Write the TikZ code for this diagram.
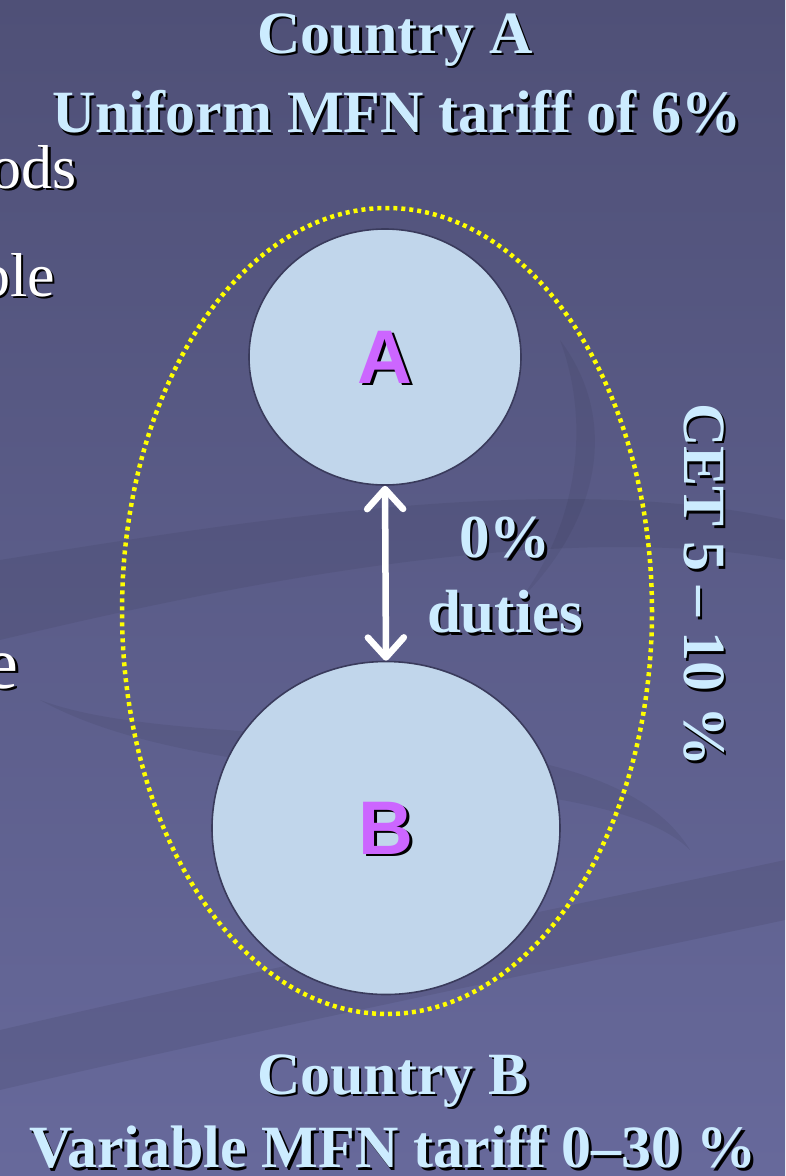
\documentclass[tikz,border=0pt]{standalone}
\usepackage{fontspec}
\setmainfont{Liberation Serif}
\newfontfamily\letterfont{Liberation Sans}
\usetikzlibrary{arrows.meta,positioning,shapes.geometric}
\definecolor{slideTop}{HTML}{4F5077}
\definecolor{slideBottom}{HTML}{67699B}
\definecolor{titleBlue}{HTML}{CCECFF}
\definecolor{countryFill}{HTML}{C1D6EB}
\definecolor{countryLine}{HTML}{3A3B5C}
\definecolor{letterViolet}{HTML}{CC66FF}
\definecolor{unionYellow}{HTML}{FFFF00}

% text with a black drop shadow
\newcommand{\dropnode}[4][]{%
  \node[#1, text=black] (#2shadow) at ([shift={(2.5,2.5)}]#3) {#4};
  \node[#1] (#2) at (#3) {#4};}

\begin{document}
\begin{tikzpicture}[x=1pt, y=-1pt,
  caption/.style={text=titleBlue, inner sep=0pt, font=\bfseries\fontsize{60}{66}\selectfont},
  duty/.style={text=titleBlue, inner sep=0pt, font=\bfseries\fontsize{61}{64}\selectfont},
  fragment/.style={text=white, inner sep=0pt, anchor=base east, font=\fontsize{62}{66}\selectfont},
  country/.style={ellipse, draw=countryLine, line width=1.6pt, fill=countryFill, inner sep=0pt},
  union/.style={ellipse, draw=unionYellow, line width=4.5pt, dash pattern=on 4pt off 4pt, inner sep=0pt},
  letter/.style={text=letterViolet, inner sep=0pt, font=\letterfont\bfseries\fontsize{76}{80}\selectfont},
  twoway/.style={{Straight Barb[length=20pt, width=36pt, round]}-{Straight Barb[length=20pt, width=36pt, round]}, white, line width=6.5pt}
]
  \useasboundingbox (0,0) rectangle (785,1176);
  \fill[top color=slideTop, bottom color=slideBottom] (0,0) rectangle (785,1176);

  % background swooshes
  \fill[black, opacity=.07] (0,1030) .. controls (300,960) and (600,900) .. (785,860)
    -- (785,920) .. controls (600,960) and (300,1020) .. (0,1090) -- cycle;
  \fill[black, opacity=.06] (0,560) .. controls (250,520) and (560,470) .. (785,520)
    -- (785,560) .. controls (560,520) and (250,580) .. (0,640) -- cycle;
  \fill[black, opacity=.06] (40,700) .. controls (200,760) and (600,700) .. (690,850)
    .. controls (600,760) and (220,800) .. (40,700) -- cycle;
  \fill[black, opacity=.05] (560,340) .. controls (620,420) and (600,520) .. (520,600)
    .. controls (580,520) and (590,420) .. (560,340) -- cycle;

  % cut-off slide text
  \dropnode[fragment]{fragOds}{77,188}{ods}
  \dropnode[fragment]{fragBle}{55,296}{ble}
  \dropnode[fragment, font=\fontsize{74}{78}\selectfont]{fragE}{19,688}{e}

  % titles
  \dropnode[caption]{titleA}{395,40}{Country A}
  \dropnode[caption]{tariffA}{397,112}{Uniform MFN tariff of 6\%}
  \dropnode[caption]{titleB}{393,1081}{Country B}
  \dropnode[caption]{tariffB}{393,1147}{Variable MFN tariff 0--30 \%}

  % customs union
  \node[union, minimum width=530, minimum height=806] (CU) at (387,611) {};
  \node[country, minimum width=272, minimum height=256] (A) at (385,357) {};
  \node[country, minimum width=348, minimum height=333] (B) at (386,828) {};
  \dropnode[letter]{letterA}{A.center}{A}
  \dropnode[letter]{letterB}{B.center}{B}

  \draw[twoway] (A.south) -- (B.north);
  \dropnode[duty]{zero}{505,538}{0\%}
  \dropnode[duty]{duties}{505,612}{duties}
  \dropnode[caption, rotate=-90]{cet}{704,585}{CET 5 -- 10 \%}
\end{tikzpicture}
\end{document}
